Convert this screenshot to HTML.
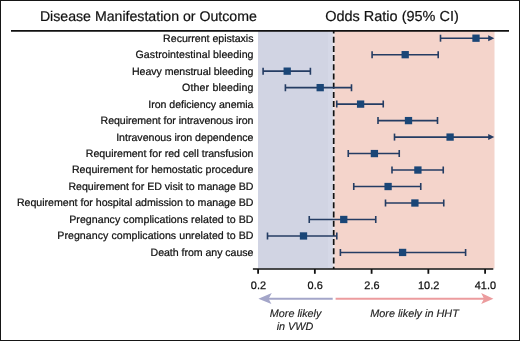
<!DOCTYPE html>
<html><head><meta charset="utf-8"><style>
html,body{margin:0;padding:0;background:#fff;}
body{width:520px;height:341px;overflow:hidden;position:relative;font-family:"Liberation Sans",sans-serif;}
svg{position:absolute;left:0;top:0;will-change:transform;}
</style></head><body>
<svg width="520" height="341" viewBox="0 0 520 341" font-family="Liberation Sans, sans-serif" text-rendering="geometricPrecision">
<rect x="0" y="0" width="520" height="341" fill="#fff"/>
<rect x="258" y="31" width="75.69999999999999" height="237.5" fill="#d1d4e3"/>
<rect x="333.7" y="31" width="160.8" height="237.5" fill="#f4d4cb"/>
<rect x="328" y="31" width="5.699999999999989" height="237.5" fill="#d5d8e7"/>
<line x1="333.7" y1="31" x2="333.7" y2="269.0" stroke="#ece6ea" stroke-width="2"/>
<line x1="333.7" y1="31" x2="333.7" y2="269.0" stroke="#111" stroke-width="1.7" stroke-dasharray="6 3.2" stroke-dashoffset="3.5"/>
<text x="39.9" y="21.2" font-size="14.15" fill="#111" stroke="#111" stroke-width="0.2">Disease Manifestation or Outcome</text>
<text x="325.2" y="21.2" font-size="14.49" fill="#111" stroke="#111" stroke-width="0.2">Odds Ratio (95% CI)</text>
<line x1="11" y1="30.8" x2="509" y2="30.8" stroke="#111" stroke-width="1.8"/>

<text x="253.5" y="41.65" font-size="10.62" textLength="90.38" text-anchor="end" fill="#111" stroke="#111" stroke-width="0.22">Recurrent epistaxis</text>
<line x1="440.5" y1="38.20" x2="489" y2="38.20" stroke="#243c63" stroke-width="1.6"/>
<path d="M440.5,34.70V41.70" stroke="#243c63" stroke-width="1.6"/>
<path d="M494.3,38.20L488.2,35.20L488.2,41.20Z" fill="#243c63"/>
<rect x="472.35" y="34.55" width="7.3" height="7.3" fill="#1a4677"/>
<text x="253.5" y="58.13" font-size="10.62" textLength="117.96" text-anchor="end" fill="#111" stroke="#111" stroke-width="0.22">Gastrointestinal bleeding</text>
<line x1="372.1" y1="54.68" x2="438.2" y2="54.68" stroke="#243c63" stroke-width="1.6"/>
<path d="M372.1,51.18V58.18M438.2,51.18V58.18" stroke="#243c63" stroke-width="1.6"/>
<rect x="401.55" y="51.03" width="7.3" height="7.3" fill="#1a4677"/>
<text x="253.5" y="74.61" font-size="10.62" textLength="121.54" text-anchor="end" fill="#111" stroke="#111" stroke-width="0.22">Heavy menstrual bleeding</text>
<line x1="263.1" y1="71.16" x2="310.4" y2="71.16" stroke="#243c63" stroke-width="1.6"/>
<path d="M263.1,67.66V74.66M310.4,67.66V74.66" stroke="#243c63" stroke-width="1.6"/>
<rect x="283.55" y="67.51" width="7.3" height="7.3" fill="#1a4677"/>
<text x="253.5" y="91.09" font-size="10.62" textLength="71.47" text-anchor="end" fill="#111" stroke="#111" stroke-width="0.22">Other bleeding</text>
<line x1="285.4" y1="87.64" x2="351.5" y2="87.64" stroke="#243c63" stroke-width="1.6"/>
<path d="M285.4,84.14V91.14M351.5,84.14V91.14" stroke="#243c63" stroke-width="1.6"/>
<rect x="316.55" y="83.99" width="7.3" height="7.3" fill="#1a4677"/>
<text x="253.5" y="107.57" font-size="10.62" textLength="105.18" text-anchor="end" fill="#111" stroke="#111" stroke-width="0.22">Iron deficiency anemia</text>
<line x1="336.75" y1="104.12" x2="383.25" y2="104.12" stroke="#243c63" stroke-width="1.6"/>
<path d="M336.75,100.62V107.62M383.25,100.62V107.62" stroke="#243c63" stroke-width="1.6"/>
<rect x="356.95" y="100.47" width="7.3" height="7.3" fill="#1a4677"/>
<text x="253.5" y="124.05" font-size="10.62" textLength="152.99" text-anchor="end" fill="#111" stroke="#111" stroke-width="0.22">Requirement for intravenous iron</text>
<line x1="378" y1="120.60" x2="437.5" y2="120.60" stroke="#243c63" stroke-width="1.6"/>
<path d="M378,117.10V124.10M437.5,117.10V124.10" stroke="#243c63" stroke-width="1.6"/>
<rect x="404.85" y="116.95" width="7.3" height="7.3" fill="#1a4677"/>
<text x="253.5" y="140.53" font-size="10.62" textLength="137.37" text-anchor="end" fill="#111" stroke="#111" stroke-width="0.22">Intravenous iron dependence</text>
<line x1="394.5" y1="137.08" x2="489" y2="137.08" stroke="#243c63" stroke-width="1.6"/>
<path d="M394.5,133.58V140.58" stroke="#243c63" stroke-width="1.6"/>
<path d="M494.3,137.08L488.2,134.08L488.2,140.08Z" fill="#243c63"/>
<rect x="446.45" y="133.43" width="7.3" height="7.3" fill="#1a4677"/>
<text x="253.5" y="157.01" font-size="10.62" textLength="167.68" text-anchor="end" fill="#111" stroke="#111" stroke-width="0.22">Requirement for red cell transfusion</text>
<line x1="348.25" y1="153.56" x2="399.25" y2="153.56" stroke="#243c63" stroke-width="1.6"/>
<path d="M348.25,150.06V157.06M399.25,150.06V157.06" stroke="#243c63" stroke-width="1.6"/>
<rect x="370.75" y="149.91" width="7.3" height="7.3" fill="#1a4677"/>
<text x="253.5" y="173.49" font-size="10.62" textLength="181.56" text-anchor="end" fill="#111" stroke="#111" stroke-width="0.22">Requirement for hemostatic procedure</text>
<line x1="392" y1="170.04" x2="443.25" y2="170.04" stroke="#243c63" stroke-width="1.6"/>
<path d="M392,166.54V173.54M443.25,166.54V173.54" stroke="#243c63" stroke-width="1.6"/>
<rect x="414.25" y="166.39" width="7.3" height="7.3" fill="#1a4677"/>
<text x="253.5" y="189.97" font-size="10.62" textLength="185.12" text-anchor="end" fill="#111" stroke="#111" stroke-width="0.22">Requirement for ED visit to manage BD</text>
<line x1="353.75" y1="186.52" x2="420.75" y2="186.52" stroke="#243c63" stroke-width="1.6"/>
<path d="M353.75,183.02V190.02M420.75,183.02V190.02" stroke="#243c63" stroke-width="1.6"/>
<rect x="384.45" y="182.87" width="7.3" height="7.3" fill="#1a4677"/>
<text x="253.5" y="206.45" font-size="10.62" textLength="236.59" text-anchor="end" fill="#111" stroke="#111" stroke-width="0.22">Requirement for hospital admission to manage BD</text>
<line x1="385.5" y1="203.00" x2="443.75" y2="203.00" stroke="#243c63" stroke-width="1.6"/>
<path d="M385.5,199.50V206.50M443.75,199.50V206.50" stroke="#243c63" stroke-width="1.6"/>
<rect x="411.25" y="199.35" width="7.3" height="7.3" fill="#1a4677"/>
<text x="253.5" y="222.93" font-size="10.62" textLength="184.28" text-anchor="end" fill="#111" stroke="#111" stroke-width="0.22">Pregnancy complications related to BD</text>
<line x1="309.25" y1="219.48" x2="375.75" y2="219.48" stroke="#243c63" stroke-width="1.6"/>
<path d="M309.25,215.98V222.98M375.75,215.98V222.98" stroke="#243c63" stroke-width="1.6"/>
<rect x="340.10" y="215.83" width="7.3" height="7.3" fill="#1a4677"/>
<text x="253.5" y="239.41" font-size="10.62" textLength="196.21" text-anchor="end" fill="#111" stroke="#111" stroke-width="0.22">Pregnancy complications unrelated to BD</text>
<line x1="267.5" y1="235.96" x2="336.8" y2="235.96" stroke="#243c63" stroke-width="1.6"/>
<path d="M267.5,232.46V239.46M336.8,232.46V239.46" stroke="#243c63" stroke-width="1.6"/>
<rect x="299.85" y="232.31" width="7.3" height="7.3" fill="#1a4677"/>
<text x="253.5" y="255.89" font-size="10.62" textLength="102.96" text-anchor="end" fill="#111" stroke="#111" stroke-width="0.22">Death from any cause</text>
<line x1="340.4" y1="252.44" x2="465.6" y2="252.44" stroke="#243c63" stroke-width="1.6"/>
<path d="M340.4,248.94V255.94M465.6,248.94V255.94" stroke="#243c63" stroke-width="1.6"/>
<rect x="398.95" y="248.79" width="7.3" height="7.3" fill="#1a4677"/>
<line x1="252.9" y1="269.0" x2="493.3" y2="269.0" stroke="#111" stroke-width="1.6"/>
<line x1="258.1" y1="269.0" x2="258.1" y2="273.8" stroke="#111" stroke-width="1.8"/>
<text x="258.40000000000003" y="288.9" font-size="10.9" text-anchor="middle" fill="#111" stroke="#111" stroke-width="0.25">0.2</text>
<line x1="314.85" y1="269.0" x2="314.85" y2="273.8" stroke="#111" stroke-width="1.8"/>
<text x="315.15000000000003" y="288.9" font-size="10.9" text-anchor="middle" fill="#111" stroke="#111" stroke-width="0.25">0.6</text>
<line x1="371.6" y1="269.0" x2="371.6" y2="273.8" stroke="#111" stroke-width="1.8"/>
<text x="371.90000000000003" y="288.9" font-size="10.9" text-anchor="middle" fill="#111" stroke="#111" stroke-width="0.25">2.6</text>
<line x1="428.35" y1="269.0" x2="428.35" y2="273.8" stroke="#111" stroke-width="1.8"/>
<text x="428.65000000000003" y="288.9" font-size="10.9" text-anchor="middle" fill="#111" stroke="#111" stroke-width="0.25">10.2</text>
<line x1="485.1" y1="269.0" x2="485.1" y2="273.8" stroke="#111" stroke-width="1.8"/>
<text x="485.40000000000003" y="288.9" font-size="10.9" text-anchor="middle" fill="#111" stroke="#111" stroke-width="0.25">41.0</text>
<line x1="266" y1="298.7" x2="332.7" y2="298.7" stroke="#a4a6c9" stroke-width="1.9"/>
<path d="M258.4,298.7 L271.8,293.1 L268.6,298.7 L271.4,303.9 Z" fill="#a4a6c9"/>
<line x1="335.6" y1="298.75" x2="486" y2="298.75" stroke="#ec9c9e" stroke-width="1.9"/>
<path d="M493.4,298.7 L481.2,293.0 L484,298.7 L481.2,303.9 Z" fill="#ec9c9e"/>
<text x="295.6" y="316.8" font-size="10.8" font-style="italic" text-anchor="middle" fill="#222" stroke="#222" stroke-width="0.15">More likely</text>
<text x="295.0" y="329.9" font-size="10.8" font-style="italic" text-anchor="middle" fill="#222" stroke="#222" stroke-width="0.15">in VWD</text>
<text x="414.5" y="316.8" font-size="10.85" font-style="italic" text-anchor="middle" fill="#222" stroke="#222" stroke-width="0.15">More likely in HHT</text>
<rect x="0.5" y="0.5" width="519" height="340" fill="none" stroke="#161616" stroke-width="1"/>
</svg></body></html>
